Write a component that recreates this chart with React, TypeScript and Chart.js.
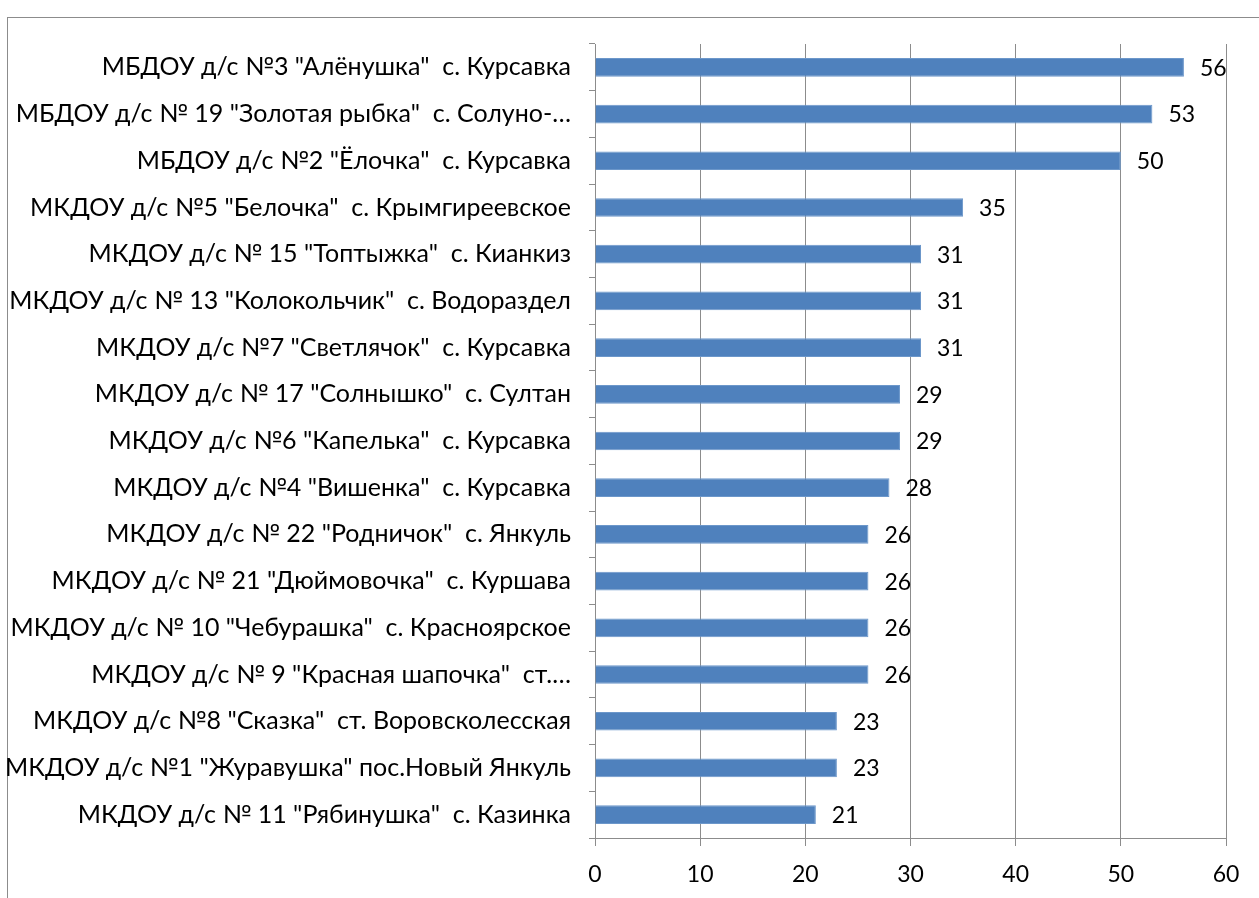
import React, { useEffect, useRef } from "react";
import { Chart, registerables } from "chart.js";

Chart.register(...registerables);

const categories: string[] = [
  'МБДОУ д/с №3 "Алёнушка"  с. Курсавка',
  'МБДОУ д/с № 19 "Золотая рыбка"  с. Солуно-…',
  'МБДОУ д/с №2 "Ёлочка"  с. Курсавка',
  'МКДОУ д/с №5 "Белочка"  с. Крымгиреевское',
  'МКДОУ д/с № 15 "Топтыжка"  с. Кианкиз',
  'МКДОУ д/с № 13 "Колокольчик"  с. Водораздел',
  'МКДОУ д/с №7 "Светлячок"  с. Курсавка',
  'МКДОУ д/с № 17 "Солнышко"  с. Султан',
  'МКДОУ д/с №6 "Капелька"  с. Курсавка',
  'МКДОУ д/с №4 "Вишенка"  с. Курсавка',
  'МКДОУ д/с № 22 "Родничок"  с. Янкуль',
  'МКДОУ д/с № 21 "Дюймовочка"  с. Куршава',
  'МКДОУ д/с № 10 "Чебурашка"  с. Красноярское',
  'МКДОУ д/с № 9 "Красная шапочка"  ст.…',
  'МКДОУ д/с №8 "Сказка"  ст. Воровсколесская',
  'МКДОУ д/с №1 "Журавушка" пос.Новый Янкуль',
  'МКДОУ д/с № 11 "Рябинушка"  с. Казинка',
];

const values: number[] = [56, 53, 50, 35, 31, 31, 31, 29, 29, 28, 26, 26, 26, 26, 23, 23, 21];

const xMin = 0;
const xMax = 60;
const xStep = 10;

const FONT = "Lato";

const frameAndLabels = {
  id: "frameAndLabels",
  beforeDraw(chart: any) {
    const ctx = chart.ctx;
    ctx.save();
    ctx.strokeStyle = "#8c8c8c";
    ctx.lineWidth = 1;
    ctx.strokeRect(7.5, 17.5, chart.width + 20, chart.height + 20);
    ctx.restore();
  },
  afterDatasetsDraw(chart: any) {
    const ctx = chart.ctx;
    const meta = chart.getDatasetMeta(0);
    ctx.save();
    ctx.fillStyle = "#000";
    ctx.font = `23px ${FONT}`;
    ctx.textAlign = "left";
    ctx.textBaseline = "middle";
    meta.data.forEach((bar: any, i: number) => {
      ctx.fillText(String(values[i]), bar.x + 16, bar.y + 1);
    });
    ctx.restore();
  },
};

export default function App() {
  const ref = useRef<HTMLCanvasElement | null>(null);
  useEffect(() => {
    document.body.style.margin = "0";
    const canvas = ref.current!;
    const chart = new Chart(canvas, {
      type: "bar",
      data: {
        labels: categories,
        datasets: [
          {
            data: values,
            backgroundColor: "#4F81BD",
            borderColor: "#6C97CA",
            borderWidth: 1,
            barPercentage: 0.4,
            categoryPercentage: 1,
          },
        ],
      },
      options: {
        indexAxis: "y",
        animation: false,
        responsive: false,
        maintainAspectRatio: false,
        layout: { padding: { left: 0, right: 33, top: 44, bottom: 0 } },
        plugins: { legend: { display: false }, tooltip: { enabled: false } },
        scales: {
          x: {
            min: xMin,
            max: xMax,
            ticks: { stepSize: xStep, color: "#000", font: { family: FONT, size: 23 }, padding: 15 },
            grid: { color: "#8c8c8c", lineWidth: 1, tickLength: 8, drawTicks: true },
            border: { color: "#8c8c8c" },
            afterFit(scale: any) {
              scale.height = 60;
            },
          },
          y: {
            ticks: { color: "#000", font: { family: FONT, size: 25 }, padding: 18, autoSkip: false },
            grid: { drawOnChartArea: false, drawTicks: true, tickLength: 6, color: "#8c8c8c", offset: true },
            border: { color: "#8c8c8c" },
            afterFit(scale: any) {
              scale.width = 595;
            },
          },
        },
      },
      plugins: [frameAndLabels],
    });
    return () => chart.destroy();
  }, []);
  return <canvas ref={ref} width={1259} height={898} style={{ display: "block" }} />;
}
